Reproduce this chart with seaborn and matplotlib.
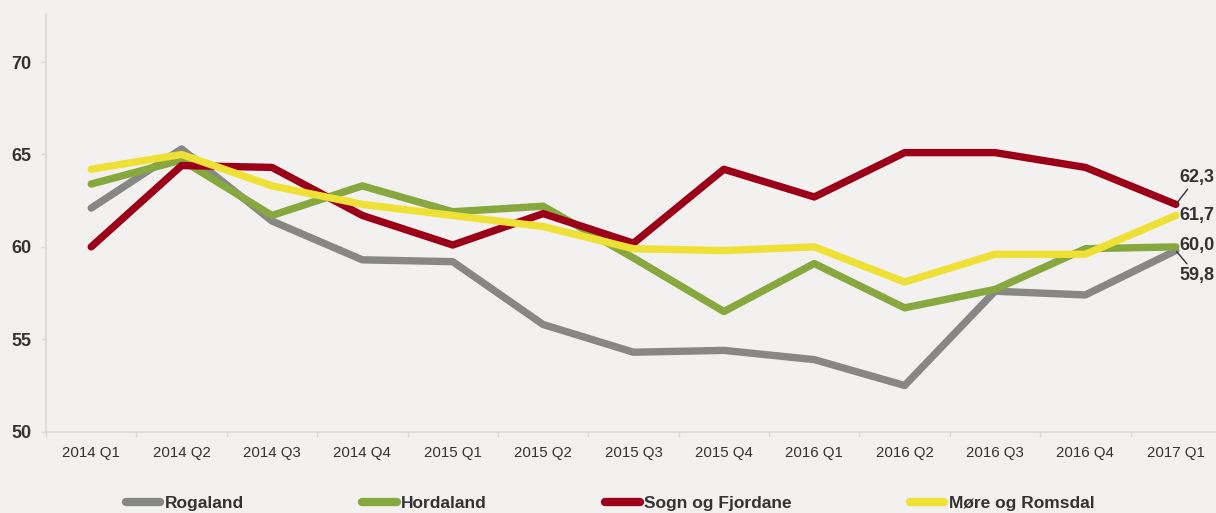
import matplotlib
matplotlib.use("Agg")
import matplotlib.pyplot as plt
import seaborn as sns
import pandas as pd

quarters = ["2014 Q1", "2014 Q2", "2014 Q3", "2014 Q4", "2015 Q1", "2015 Q2", "2015 Q3",
            "2015 Q4", "2016 Q1", "2016 Q2", "2016 Q3", "2016 Q4", "2017 Q1"]
rogaland = [62.1, 65.3, 61.4, 59.3, 59.2, 55.8, 54.3, 54.4, 53.9, 52.5, 57.6, 57.4, 59.8]
hordaland = [63.4, 64.7, 61.7, 63.3, 61.9, 62.2, 59.4, 56.5, 59.1, 56.7, 57.7, 59.9, 60.0]
sogn = [60.0, 64.4, 64.3, 61.7, 60.1, 61.8, 60.2, 64.2, 62.7, 65.1, 65.1, 64.3, 62.3]
more = [64.2, 65.0, 63.3, 62.3, 61.7, 61.1, 59.9, 59.8, 60.0, 58.1, 59.6, 59.6, 61.7]
series_names = ["Rogaland", "Hordaland", "Sogn og Fjordane", "Møre og Romsdal"]
colors = ["#878787", "#86A83F", "#9B0018", "#EEE034"]
yticks = [50, 55, 60, 65, 70]

bg = "#F2F1EF"
sns.set_theme(style="white")
plt.rcParams["font.family"] = ["Liberation Sans", "DejaVu Sans"]

rows = []
for name, vals in zip(series_names, [rogaland, hordaland, sogn, more]):
    for q, v in zip(quarters, vals):
        rows.append({"Kvartal": q, "Verdi": v, "Serie": name})
df = pd.DataFrame(rows)

fig = plt.figure(figsize=(12.16, 5.13), dpi=100, facecolor=bg)
ax = fig.add_axes([46 / 1216, 81.3 / 513, 1175 / 1216, (499 - 81.3) / 513])
ax.set_facecolor(bg)

sns.lineplot(data=df, x="Kvartal", y="Verdi", hue="Serie", hue_order=series_names,
             palette=dict(zip(series_names, colors)), linewidth=5.3, ax=ax,
             sort=False, legend=True)
for ln in ax.get_lines():
    ln.set_solid_capstyle("round")
    ln.set_solid_joinstyle("round")

ax.set_xlim(-0.5, len(quarters) - 0.5)
ax.set_ylim(50, 72.6)
ax.set_yticks(yticks)
ax.set_yticklabels([str(t) for t in yticks], fontsize=13, fontweight="bold", color="#333333")
ax.set_xticks(range(len(quarters)))
ax.set_xticklabels(quarters, fontsize=10.8, color="#333333")
ax.set_xticks([i - 0.5 for i in range(len(quarters) + 1)], minor=True)
ax.tick_params(axis="x", which="major", length=0, pad=10)
ax.tick_params(axis="x", which="minor", length=3.6, width=1, color="#D9D9D9", bottom=True)
ax.tick_params(axis="y", which="major", length=3.6, width=1, color="#D9D9D9", pad=7, left=True)
ax.set_xlabel("")
ax.set_ylabel("")
for s in ["top", "right"]:
    ax.spines[s].set_visible(False)
for s in ["left", "bottom"]:
    ax.spines[s].set_color("#D9D9D9")
    ax.spines[s].set_linewidth(1.2)

# end labels
last = len(quarters) - 1
label_offsets = {"Sogn og Fjordane": (21, 27, True), "Møre og Romsdal": (21, 0, False),
                 "Hordaland": (21, 1, False), "Rogaland": (21, -25, True)}
for name, vals in zip(series_names, [rogaland, hordaland, sogn, more]):
    dx, dy, leader = label_offsets[name]
    txt = f"{vals[last]:.1f}".replace(".", ",")
    ap = dict(arrowstyle="-", color="#333333", lw=1, shrinkA=0, shrinkB=1) if leader else None
    ax.annotate(txt, xy=(last, vals[last]), xytext=(dx, dy), textcoords="offset pixels",
                ha="center", va="center", fontsize=13, fontweight="bold", color="#333333",
                arrowprops=ap, annotation_clip=False)

handles, labels = ax.get_legend_handles_labels()
ax.get_legend().remove()
for h in handles:
    h.set_solid_capstyle("round")
    h.set_linewidth(6)
fig.legend(handles, labels, loc="center", bbox_to_anchor=(610 / 1216, 9.5 / 513), ncol=4,
           frameon=False, handlelength=2.0, handletextpad=0.25, columnspacing=6.8,
           prop={"size": 12.5, "weight": "bold"}, labelcolor="#333333")

fig.savefig("out.png", dpi=100, facecolor=bg)
